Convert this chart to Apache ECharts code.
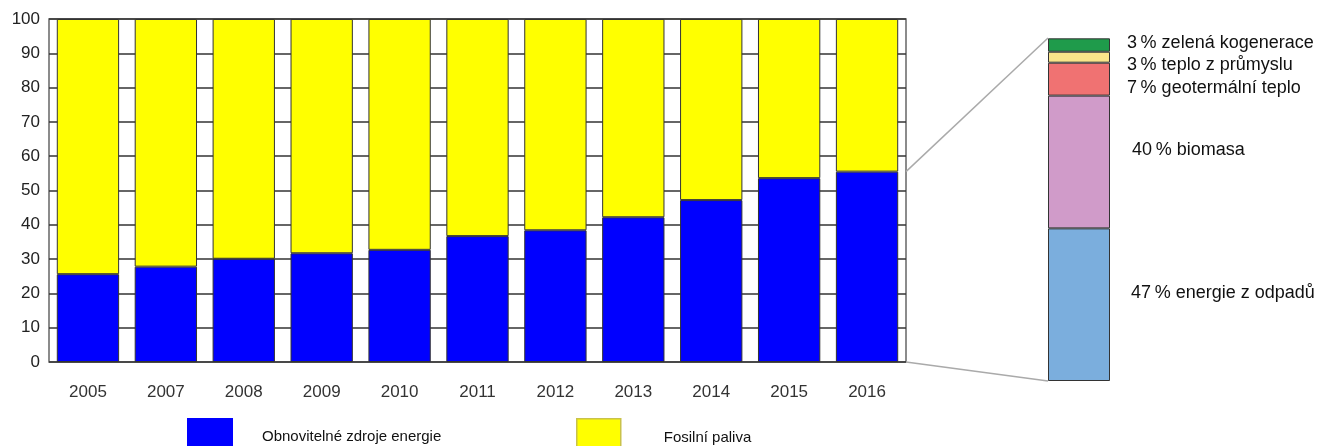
<!DOCTYPE html>
<html>
<head>
<meta charset="utf-8">
<script src="https://cdn.jsdelivr.net/npm/echarts@6/dist/echarts.min.js"></script>
<style>
  html, body { margin: 0; padding: 0; background: #fff; }
  #chart { width: 1320px; height: 446px; }
</style>
</head>
<body>
<div id="chart"></div>
<script>
// roky
var years = ["2005", "2007", "2008", "2009", "2010", "2011", "2012", "2013", "2014", "2015", "2016"];
// podíl obnovitelných zdrojů (%)
var renewable = [25.6, 27.8, 30.1, 31.7, 32.7, 36.7, 38.4, 42.2, 47.2, 53.6, 55.5];
// podíl fosilních paliv (%)
var fossil = [74.4, 72.2, 69.9, 68.3, 67.3, 63.3, 61.6, 57.8, 52.8, 46.4, 44.5];
var yTicks = [0, 10, 20, 30, 40, 50, 60, 70, 80, 90, 100];

// rozpad obnovitelných zdrojů 2016 (zdola nahoru)
var mixNames = ["energie z odpadů", "biomasa", "geotermální teplo", "teplo z průmyslu", "zelená kogenerace"];
var mixValues = [44.5, 38.7, 9.6, 3.2, 3.9];
var mixLabels = ["47\u2009% energie z odpadů", "40\u2009% biomasa", "7\u2009% geotermální teplo", "3\u2009% teplo z průmyslu", "3\u2009% zelená kogenerace"];
var mixColors = ["#7BAEDD", "#D09BC9", "#F07272", "#FAE58A", "#1F9B4B"];
// posun popisků (jen rozložení)
var labelShift = [[4, -12], [5, -12], [0, 9], [0, 8], [0, -2]];

var FONT = "Liberation Sans, Arial, sans-serif";
var chart = echarts.init(document.getElementById("chart"));

var mixSeries = mixNames.map(function (name, i) {
  return {
    name: name,
    type: "bar",
    xAxisIndex: 1,
    yAxisIndex: 1,
    stack: "mix",
    barWidth: "100%",
    data: [mixValues[i]],
    itemStyle: { color: mixColors[i], borderColor: "#333", borderWidth: 1 },
    label: {
      show: true,
      position: "right",
      distance: 17,
      offset: labelShift[i],
      formatter: mixLabels[i],
      color: "#111",
      fontSize: 18,
      fontFamily: FONT
    },
    silent: true
  };
});

chart.setOption({
  animation: false,
  textStyle: { fontFamily: FONT },
  grid: [
    { left: 49, top: 19, width: 857, height: 343, show: true, borderColor: "#666", borderWidth: 1.5, backgroundColor: "#fff" },
    { left: 1048, top: 38, width: 62, height: 343 }
  ],
  legend: [
    {
      left: 187, top: 418, padding: 0,
      icon: "rect", itemWidth: 46, itemHeight: 38,
      selectedMode: false,
      data: [{ name: "Obnovitelné zdroje energie", itemStyle: { borderWidth: 0 } }],
      textStyle: { fontSize: 15, color: "#111", padding: [0, 0, 0, 24], fontFamily: FONT }
    },
    {
      left: 576, top: 418, padding: 0,
      icon: "rect", itemWidth: 44, itemHeight: 38,
      selectedMode: false,
      data: [{ name: "Fosilní paliva", itemStyle: { borderColor: "#C9C24A", borderWidth: 1.5 } }],
      textStyle: { fontSize: 15, color: "#111", padding: [0, 0, 0, 38], fontFamily: FONT }
    }
  ],
  xAxis: [
    {
      type: "category",
      gridIndex: 0,
      data: years,
      axisLine: { show: false },
      axisTick: { show: false },
      axisLabel: { margin: 22, fontSize: 17, color: "#333", fontFamily: FONT }
    },
    { type: "category", gridIndex: 1, data: ["2016"], show: false }
  ],
  yAxis: [
    {
      type: "value",
      gridIndex: 0,
      min: 0, max: 100, interval: 10,
      axisLine: { show: false },
      axisTick: { show: false },
      axisLabel: {
        margin: 9, fontSize: 17, color: "#222", fontFamily: FONT,
        formatter: function (v) { return yTicks.indexOf(v) >= 0 ? String(v) : ""; }
      },
      splitLine: { show: true, lineStyle: { color: "#333", width: 1.5 } }
    },
    { type: "value", gridIndex: 1, min: 0, max: 100, show: false }
  ],
  series: [
    {
      name: "Obnovitelné zdroje energie",
      type: "bar",
      stack: "total",
      barCategoryGap: "20%",
      data: renewable,
      itemStyle: { color: "#0000FF", borderColor: "#333", borderWidth: 1 }
    },
    {
      name: "Fosilní paliva",
      type: "bar",
      stack: "total",
      barCategoryGap: "20%",
      data: fossil,
      itemStyle: { color: "#FFFF00", borderColor: "#333", borderWidth: 1 }
    }
  ].concat(mixSeries)
});

// spojovací čáry mezi sloupcem 2016 a rozpadem
var x0 = 906, x1 = 1048;
var yRenewTop = chart.convertToPixel({ yAxisIndex: 0 }, renewable[renewable.length - 1]);
var yZero = chart.convertToPixel({ yAxisIndex: 0 }, 0);
var yMixTop = chart.convertToPixel({ yAxisIndex: 1 }, 100);
var yMixBottom = chart.convertToPixel({ yAxisIndex: 1 }, 0);

chart.setOption({
  graphic: [
    { type: "line", silent: true, shape: { x1: x0, y1: yRenewTop, x2: x1, y2: yMixTop }, style: { stroke: "#AAA", lineWidth: 1.5 } },
    { type: "line", silent: true, shape: { x1: x0, y1: yZero, x2: x1, y2: yMixBottom }, style: { stroke: "#AAA", lineWidth: 1.5 } }
  ]
});
</script>
</body>
</html>
